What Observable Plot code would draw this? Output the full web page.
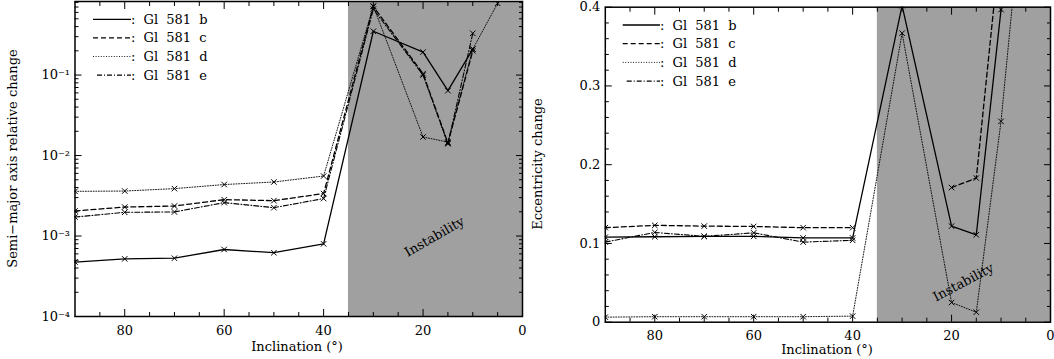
<!DOCTYPE html>
<html><head><meta charset="utf-8">
<script src="https://cdn.jsdelivr.net/npm/d3@7"></script>
<script src="https://cdn.jsdelivr.net/npm/@observablehq/plot@0.6"></script>
<style>
body{margin:0;background:#fff;}
#wrap{position:relative;width:1054px;height:359px;font-family:"DejaVu Serif";}
#wrap > svg{position:absolute;top:0;}
</style></head><body><div id="wrap"></div>
<script>
// ---- data ----
const inclination = [90, 80, 70, 60, 50, 40, 30, 20, 15, 10, 5];
const seriesNames = ["Gl 581 b", "Gl 581 c", "Gl 581 d", "Gl 581 e"];
// semi-major axis relative change (left panel)
const semiB = [4.75e-4, 5.2e-4, 5.3e-4, 6.8e-4, 6.2e-4, 8.0e-4, 0.35, 0.193, 0.064, 0.21, null];
const semiC = [2.05e-3, 2.29e-3, 2.36e-3, 2.83e-3, 2.75e-3, 3.37e-3, 0.71, 0.104, 0.0143, 0.20, null];
const semiD = [3.59e-3, 3.62e-3, 3.88e-3, 4.36e-3, 4.69e-3, 5.56e-3, 0.72, 0.017, 0.0147, 0.21, 0.78];
const semiE = [1.72e-3, 1.97e-3, 1.99e-3, 2.6e-3, 2.25e-3, 2.92e-3, 0.66, 0.10, 0.014, 0.33, null];
// eccentricity change (right panel)
const eccB = [0.108, 0.1085, 0.109, 0.109, 0.107, 0.107, 0.402, 0.122, 0.111, 0.397, null];
const eccC = [0.12, 0.123, 0.122, 0.1216, 0.12, 0.12, null, 0.171, 0.183, 0.49, null];
const eccD = [0.0064, 0.007, 0.007, 0.007, 0.007, 0.0077, 0.367, 0.025, 0.0127, 0.255, 0.58];
const eccE = [0.1017, 0.114, 0.109, 0.1135, 0.1017, 0.104, null, null, null, null, null];
// shaded region and tick labels
const instability = [{from: 35, to: 0}];
const xTickLabels = [80, 60, 40, 20, 0];
const semiTickLabels = [1e-4, 1e-3, 1e-2, 1e-1];
const eccTickLabels = [0, 0.1, 0.2, 0.3, 0.4];
const xTitle = "Inclination (°)";
const yTitles = ["Semi−major axis relative change", "Eccentricity change"];

// ---- styles ----
const dashes = [null, "5,3", "1,1.6", "5,2,1,2"];
const widths = [1.3, 1.3, 0.9, 1.1];
const FONT = "DejaVu Serif";

const xMinor = d3.range(85, 0, -5).filter(v => v % 20 !== 0);
const sup = {"-": "⁻", "0": "⁰", "1": "¹", "2": "²", "3": "³", "4": "⁴"};
const logFmt = d => "10" + String(Math.round(Math.log10(d))).split("").map(c => sup[c]).join("");

function panel({values, yScale, yMajor, yMinor, yFmt, margins, text}) {
  const marks = [
    Plot.rect(instability, {x1: "from", x2: "to", fill: "#a0a0a0"})
  ];
  values.forEach((vals, i) => {
    const data = inclination.map((x, j) => ({x, y: vals[j]}));
    marks.push(Plot.line(data, {x: "x", y: "y", stroke: "black", strokeWidth: widths[i],
      strokeDasharray: dashes[i], clip: true}));
    marks.push(Plot.dot(data.filter(d => d.y != null), {x: "x", y: "y", symbol: "times", r: 2.6,
      stroke: "black", strokeWidth: 1, clip: true}));
  });
  marks.push(Plot.text([text], {x: "x", y: "y", text: () => "Instability", rotate: text.rotate,
    fontSize: 13, fontFamily: FONT, fill: "black"}));
  const inward = (ticks, size) => [
    Plot.axisX(ticks, {anchor: "bottom", tickSize: -size, tickFormat: () => "", label: null}),
    Plot.axisX(ticks, {anchor: "top", tickSize: -size, tickFormat: () => "", label: null})
  ];
  const inwardY = (ticks, size) => [
    Plot.axisY(ticks, {anchor: "left", tickSize: -size, tickFormat: () => "", label: null}),
    Plot.axisY(ticks, {anchor: "right", tickSize: -size, tickFormat: () => "", label: null})
  ];
  marks.push(...inward(xTickLabels, 7), ...inward(xMinor, 4), ...inwardY(yMajor, 7), ...inwardY(yMinor, 4));
  marks.push(Plot.axisX(xTickLabels, {anchor: "bottom", tickSize: 0, tickPadding: 9, label: null,
    fontSize: 13, fontFamily: FONT}));
  marks.push(Plot.axisY(yMajor, {anchor: "left", tickSize: 0, tickPadding: 5, tickFormat: yFmt, label: null,
    fontSize: 13, fontFamily: FONT}));
  marks.push(Plot.frame({stroke: "black", strokeWidth: 1.5}));
  return Plot.plot({
    width: 527, height: 359,
    marginLeft: margins.left, marginRight: margins.right, marginTop: margins.top, marginBottom: margins.bottom,
    x: {domain: [90, 0]},
    y: yScale,
    style: {fontFamily: FONT, fontSize: "13px", color: "black", background: "transparent", overflow: "visible"},
    marks
  });
}

const semiMinor = d3.range(-4, 0).flatMap(e => d3.range(2, 10).map(m => m * 10 ** e)).filter(v => v <= 0.82);
const left = panel({
  values: [semiB, semiC, semiD, semiE],
  yScale: {type: "log", domain: [1e-4, 0.82]},
  yMajor: semiTickLabels, yMinor: semiMinor, yFmt: logFmt,
  margins: {left: 74.5, right: 5, top: 1, bottom: 43},
  text: {x: 17.7, y: 0.00098, rotate: -30}
});
const eccMinor = d3.range(1, 20).filter(i => i % 5 !== 0).map(i => i * 0.02);
const right = panel({
  values: [eccB, eccC, eccD, eccE],
  yScale: {domain: [0, 0.4]},
  yMajor: eccTickLabels, yMinor: eccMinor, yFmt: d => d === 0 ? "0" : d.toFixed(1),
  margins: {left: 77.8, right: 4, top: 6.7, bottom: 37.3},
  text: {x: 17.6, y: 0.0505, rotate: -28}
});
const wrap = document.getElementById("wrap");
left.style.left = "0px";
right.style.left = "527px";
wrap.append(left, right);

// ---- overlay: axis titles and legends ----
const ov = d3.select(wrap).append("svg").attr("width", 1054).attr("height", 359)
  .style("position", "absolute").style("left", "0px").style("top", "0px")
  .attr("font-family", FONT).attr("font-size", 13);
[{x: 297, y: 346}, {x: 827, y: 349}].forEach(p => {
  ov.append("text").attr("x", p.x).attr("y", p.y).attr("dy", "0.35em").attr("text-anchor", "middle").text(xTitle);
});
[{x: 12, y: 158.5}, {x: 537, y: 164}].forEach((p, i) => {
  ov.append("text").attr("transform", `translate(${p.x},${p.y}) rotate(-90)`).attr("dy", "0.35em")
    .attr("text-anchor", "middle").text(yTitles[i]);
});
[{x0: 93, x1: 131, y0: 19.3, dy: 18.6}, {x0: 622.7, x1: 660, y0: 25, dy: 18.7}].forEach(L => {
  seriesNames.forEach((name, i) => {
    const y = L.y0 + i * L.dy;
    ov.append("line").attr("x1", L.x0 + (i === 3 ? 4 : 0)).attr("x2", L.x1).attr("y1", y).attr("y2", y)
      .attr("stroke", "black").attr("stroke-width", widths[i])
      .attr("stroke-dasharray", dashes[i]);
    ov.append("text").attr("x", L.x1).attr("y", y).attr("dy", "0.35em")
      .style("word-spacing", "4px").attr("xml:space", "preserve").text(": " + name);
  });
});
</script></body></html>
